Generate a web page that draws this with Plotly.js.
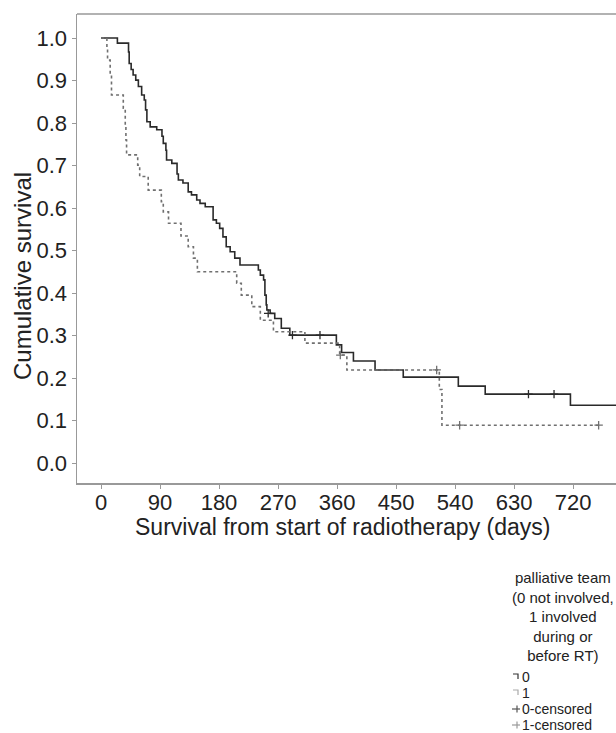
<!DOCTYPE html>
<html>
<head>
<meta charset="utf-8">
<script src="https://cdn.plot.ly/plotly-3.0.1.min.js"></script>
<style>html,body{margin:0;padding:0;background:#fff;overflow:hidden}</style>
</head>
<body>
<div id="chart" style="width:616px;height:733px"></div>
<script>
// Group 0: palliative team not involved
const g0Days = [0,25,42,43,46,49,53,57,62,66,68,70,75,85,93,95,99,100,108,116,118,125,133,138,146,151,159,171,176,181,186,191,197,204,212,240,243,248,250,252,253,258,265,275,288,359,367,385,418,461,545,586,716,790];
const g0Surv = [1,0.988,0.967,0.940,0.926,0.913,0.901,0.886,0.866,0.854,0.831,0.803,0.791,0.784,0.769,0.752,0.736,0.713,0.705,0.680,0.666,0.659,0.638,0.631,0.619,0.611,0.603,0.572,0.564,0.552,0.532,0.509,0.497,0.482,0.466,0.454,0.442,0.431,0.395,0.372,0.360,0.352,0.340,0.317,0.301,0.278,0.260,0.240,0.219,0.202,0.181,0.162,0.136,0.136];
const g0CensDays = [255,292,334,652,691];
const g0CensSurv = [0.352,0.301,0.301,0.162,0.162];

// Group 1: palliative team involved during or before RT
const g1Days = [0,9,10,14,16,34,37,38,39,56,59,72,92,95,103,122,133,141,147,207,214,230,243,263,311,364,375,516,520,759];
const g1Surv = [1,0.976,0.948,0.913,0.866,0.835,0.795,0.760,0.725,0.701,0.674,0.642,0.615,0.591,0.564,0.534,0.509,0.482,0.450,0.423,0.395,0.368,0.336,0.309,0.282,0.254,0.219,0.173,0.089,0.089];
const g1CensDays = [365,512,547,759];
const g1CensSurv = [0.254,0.219,0.089,0.089];

const xTicks = [0,90,180,270,360,450,540,630,720];
const yTicks = [0,0.1,0.2,0.3,0.4,0.5,0.6,0.7,0.8,0.9,1.0];
const yTickText = ['0.0','0.1','0.2','0.3','0.4','0.5','0.6','0.7','0.8','0.9','1.0'];

const xTitle = 'Survival from start of radiotherapy (days)';
const yTitle = 'Cumulative survival';
const legendTitle = 'palliative team<br>(0 not involved,<br>1 involved<br>during or<br>before RT)';
const legendLabels = ['0', '1', '0-censored', '1-censored'];

const FONT = 'Liberation Sans, Arial, sans-serif';
const C0 = '#2a2a2a', C1 = '#707070';

// pixel -> paper helpers for decoration placement (plot area 77..616 x 14..483)
const L = 77, R = 616, T = 14, B = 483;
const px = v => (v - L) / (R - L);
const py = v => (B - v) / (B - T);

const traces = [
  {x: g0Days, y: g0Surv, name: legendLabels[0], type: 'scatter', mode: 'lines',
   line: {shape: 'hv', color: C0, width: 1.6}},
  {x: g1Days, y: g1Surv, name: legendLabels[1], type: 'scatter', mode: 'lines',
   line: {shape: 'hv', color: C1, width: 1.6, dash: 'dot'}},
  {x: g0CensDays, y: g0CensSurv, name: legendLabels[2], type: 'scatter', mode: 'markers',
   marker: {symbol: 'cross-thin', size: 6, line: {color: C0, width: 1.3}}},
  {x: g1CensDays, y: g1CensSurv, name: legendLabels[3], type: 'scatter', mode: 'markers',
   marker: {symbol: 'cross-thin', size: 6, line: {color: C1, width: 1.3}}}
];

const itemY = [677, 693, 709, 725];
const itemColors = ['#333', '#aaa', '#555', '#999'];

const annotations = [
  {text: yTitle, xref: 'paper', yref: 'paper', x: px(22), y: py(276),
   textangle: -90, showarrow: false, xanchor: 'center', yanchor: 'middle',
   font: {size: 24, color: '#222', family: FONT}},
  {text: xTitle, xref: 'paper', yref: 'paper', x: px(342), y: py(527),
   showarrow: false, xanchor: 'center', yanchor: 'middle',
   font: {size: 23, color: '#222', family: FONT}},
  {text: legendTitle, xref: 'paper', yref: 'paper', x: px(563), y: py(616),
   showarrow: false, xanchor: 'center', yanchor: 'middle', align: 'center',
   font: {size: 15, color: '#222', family: FONT}}
];
legendLabels.forEach((lab, i) => {
  annotations.push({text: lab, xref: 'paper', yref: 'paper', x: px(521), y: py(itemY[i]),
    showarrow: false, xanchor: 'left', yanchor: 'middle', borderpad: 0,
    font: {size: 14, color: '#222', family: FONT}});
});

const shapes = [
  {type: 'line', xref: 'paper', yref: 'paper', x0: 0, x1: 1, y0: 1, y1: 1,
   line: {color: '#999', width: 1.5}}
];
// legend glyphs: step glyph for lines, plus glyph for censored
[0, 1].forEach(i => {
  const y = itemY[i];
  shapes.push({type: 'path', xref: 'paper', yref: 'paper',
    path: `M ${px(513)} ${py(y - 3)} L ${px(518)} ${py(y - 3)} L ${px(518)} ${py(y + 2)}`,
    line: {color: itemColors[i], width: 1.2}});
});
[2, 3].forEach(i => {
  const y = itemY[i];
  shapes.push({type: 'line', xref: 'paper', yref: 'paper', x0: px(512), x1: px(520), y0: py(y), y1: py(y),
    line: {color: itemColors[i], width: 1.2}});
  shapes.push({type: 'line', xref: 'paper', yref: 'paper', x0: px(517), x1: px(517), y0: py(y - 3.5), y1: py(y + 3.5),
    line: {color: itemColors[i], width: 1.2}});
});

const layout = {
  width: 616, height: 733,
  margin: {l: L, r: 0, t: T, b: 733 - B},
  paper_bgcolor: '#fff', plot_bgcolor: '#fff',
  font: {family: FONT, color: '#222'},
  showlegend: false,
  xaxis: {
    range: [-36.6, 785.5], tickvals: xTicks, ticktext: xTicks.map(String),
    showgrid: false, zeroline: false, showline: true, linecolor: '#999', linewidth: 1.5,
    ticks: 'outside', ticklen: 4, tickcolor: '#999', ticklabelstandoff: -5,
    tickfont: {size: 22, color: '#222'}
  },
  yaxis: {
    range: [-0.047, 1.0565], tickvals: yTicks, ticktext: yTickText,
    showgrid: false, zeroline: false, showline: true, linecolor: '#999', linewidth: 1.5,
    ticks: 'outside', ticklen: 4, tickcolor: '#999',
    tickfont: {size: 22, color: '#222'}
  },
  shapes: shapes,
  annotations: annotations
};

Plotly.newPlot('chart', traces, layout, {displayModeBar: false, staticPlot: true});
</script>
</body>
</html>
